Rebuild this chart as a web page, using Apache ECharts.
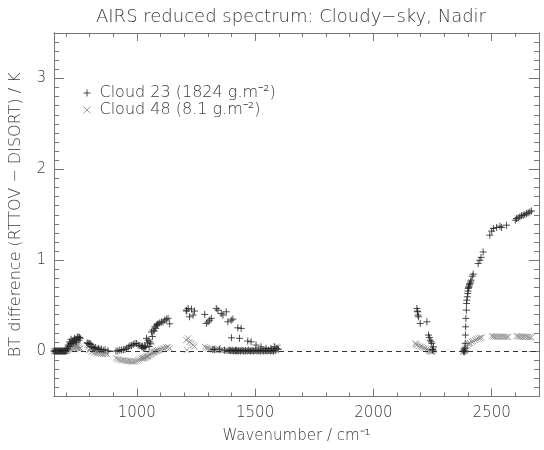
<!DOCTYPE html>
<html>
<head>
<meta charset="utf-8">
<script src="https://cdn.jsdelivr.net/npm/echarts@6/dist/echarts.min.js"></script>
<style>
  html, body { margin: 0; padding: 0; background: #fff; }
  #chart { width: 544px; height: 450px; }
</style>
</head>
<body>
<div id="chart"></div>
<script>
// Axis ranges and tick positions
const xRange = [650, 2700];
const yRange = [-0.5, 3.5];
const xMajorTicks = [1000, 1500, 2000, 2500];
const xMinorTicks = [700, 800, 900, 1100, 1200, 1300, 1400, 1600, 1700, 1800, 1900,
  2100, 2200, 2300, 2400, 2600, 2700];
const yMajorTicks = [0, 1, 2, 3];

// Series names
const name23 = 'Cloud 23 (1824 g.m⁻²)';
const name48 = 'Cloud 48 (8.1 g.m⁻²)';

// Cloud 23: [wavenumber (cm-1), BT difference (K)]
const cloud23 = [
  [650,0],[653,0],[656,0],[659,0],[662,0],[665,0],[668,0],[671,0],[674,0],[677,0],
  [680,0],[683,0],[686,0],[689,0],[692,0],[695,0],[698,0],[701,0],[704,0.01],[707,0.03],
  [710,0.066],[713,0.05],[716,0.10],[719,0.08],[722,0.13],[725,0.085],[728,0.11],[731,0.09],
  [734,0.12],[737,0.14],[740,0.10],[743,0.13],[746,0.10],[749,0.15],[752,0.157],[755,0.12],
  [758,0.15],[761,0.14],
  [790,0.09],[794,0.085],[798,0.08],[802,0.085],[806,0.073],[810,0.05],[815,0.04],[820,0.03],
  [826,0.04],[832,0.02],[838,0.03],[844,0.018],[850,0.02],[858,0.01],[866,0.015],[878,0.003],
  [912,0.0],[920,0.003],[928,0.011],[936,0.011],[943,0.015],[950,0.018],[957,0.03],[964,0.045],
  [971,0.058],[978,0.06],[985,0.073],[992,0.084],[999,0.084],[1006,0.066],[1013,0.06],[1020,0.048],
  [1024,0.055],[1027,0.03],[1031,0.04],[1034,0.055],[1038,0.045],[1041,0.14],[1045,0.09],[1048,0.12],
  [1052,0.05],[1055,0.10],[1059,0.08],[1062,0.21],[1066,0.16],[1069,0.23],[1073,0.22],[1076,0.267],
  [1080,0.25],[1083,0.286],[1087,0.29],[1090,0.30],[1097,0.31],[1104,0.32],[1111,0.32],[1118,0.34],
  [1125,0.35],[1132,0.36],[1139,0.30],
  [1209,0.45],[1211,0.44],[1217,0.469],[1223,0.377],[1231,0.462],[1238,0.396],[1244,0.44],
  [1287,0.403],[1294,0.304],[1301,0.32],[1308,0.34],[1315,0.36],[1336,0.469],[1343,0.45],
  [1357,0.414],[1364,0.396],[1378,0.432],[1385,0.322],[1399,0.34],[1400,0.146],[1406,0.352],
  [1427,0.256],[1434,0.14],[1441,0.249],[1469,0.11],[1483,0.102],[1504,0.066],[1525,0.047],
  [1546,0.03],[1567,0.03],[1581,0.047],
  [1322,0.02],[1329,0.015],[1350,0.02],[1371,0.01],[1390,0.01],[1395,0.005],[1403,0.01],[1410,0.0],
  [1417,0.005],[1420,0.01],[1424,0.0],[1431,0.005],[1438,0.0],[1445,0.01],[1452,0.0],[1459,0.005],
  [1466,0.0],[1473,0.01],[1480,0.0],[1487,0.005],[1494,0.0],[1501,0.01],[1508,0.0],[1515,0.005],
  [1522,0.0],[1529,0.01],[1536,0.0],[1543,0.005],[1550,0.0],[1557,0.01],[1564,0.0],[1571,0.005],
  [1578,0.0],[1585,0.01],[1592,0.03],[1598,0.02],
  [2184,0.469],[2186,0.44],[2187,0.432],[2188,0.396],[2191,0.377],[2198,0.304],[2226,0.322],
  [2233,0.176],[2237,0.15],[2240,0.12],[2244,0.102],[2247,0.085],[2250,0.018],[2252,0.01],[2254,0.047],
  [2380,-0.005],[2382,0.0],[2384,0.01],[2386,-0.008],[2387,0.03],[2388,0.085],[2389,0.176],[2390,0.267],
  [2391,0.359],[2393,0.45],[2394,0.524],[2395,0.56],[2397,0.597],[2399,0.634],[2400,0.66],[2401,0.689],
  [2403,0.70],[2404,0.714],[2406,0.73],[2408,0.744],[2411,0.76],[2413,0.78],[2418,0.824],[2422,0.846],
  [2443,0.963],[2450,1.0],[2455,1.03],[2464,1.09],[2492,1.275],[2500,1.32],[2507,1.348],[2521,1.36],
  [2535,1.374],[2542,1.36],[2563,1.385],[2600,1.44],[2605,1.458],[2612,1.465],[2619,1.476],[2626,1.49],
  [2633,1.495],[2640,1.50],[2647,1.513],[2654,1.52],[2661,1.531],[2668,1.542]
];

// Cloud 48: [wavenumber (cm-1), BT difference (K)]
const cloud48 = [
  [650,0],[653,0],[656,0],[659,0],[662,0],[665,0],[668,0],[671,0],[674,0],[677,0],
  [680,0],[683,0],[686,0],[689,0],[692,0],[695,0],[698,0],[701,0],[704,0],[707,0.01],
  [710,0.02],[713,0.03],[716,0.04],[719,0.02],[722,0.05],[725,0.03],[728,0.06],[731,0.04],
  [734,0.05],[737,0.03],[740,0.06],[743,0.04],[746,0.05],[749,0.03],[752,0.06],[755,0.04],
  [758,0.02],[761,0.03],
  [790,0.066],[794,0.05],[798,0.01],[802,0.03],[806,0.02],[810,-0.008],[815,0.0],[820,-0.018],
  [826,-0.01],[832,-0.025],[838,-0.02],[844,-0.025],[850,-0.03],[858,-0.033],[866,-0.03],[875,-0.035],
  [912,-0.08],[920,-0.09],[928,-0.095],[936,-0.10],[943,-0.10],[950,-0.105],[957,-0.11],[964,-0.11],
  [971,-0.11],[978,-0.115],[985,-0.115],[992,-0.115],[999,-0.11],[1006,-0.10],[1013,-0.09],[1020,-0.08],
  [1024,-0.085],[1027,-0.075],[1031,-0.08],[1034,-0.07],[1038,-0.07],[1041,-0.06],[1045,-0.06],[1048,-0.055],
  [1052,-0.05],[1055,-0.04],[1059,-0.035],[1062,-0.025],[1066,-0.02],[1069,-0.015],[1073,-0.01],[1076,-0.008],
  [1080,0.0],[1083,0.005],[1087,0.0],[1090,0.011],[1097,0.011],[1104,0.02],[1111,0.03],[1118,0.03],
  [1125,0.04],[1132,0.047],[1139,0.03],
  [1209,0.12],[1211,0.011],[1217,0.14],[1223,0.10],[1231,0.085],[1238,0.066],[1244,0.05],
  [1287,0.047],[1294,0.037],[1301,0.03],[1308,0.022],[1315,0.02],[1322,0.015],[1329,0.011],[1336,0.02],
  [1343,0.03],[1350,0.015],[1357,0.01],[1364,0.008],[1371,0.005],[1378,0.01],[1385,0.005],[1390,0.0],
  [1395,0.005],[1399,0.0],[1403,0.005],[1406,0.0],[1410,0.005],[1417,0.0],[1420,0.005],[1424,0.0],
  [1427,0.0],[1431,0.005],[1434,0.005],[1438,0.0],[1441,0.0],[1445,0.005],[1452,0.0],[1459,0.005],
  [1466,0.0],[1469,0.0],[1473,0.005],[1480,0.0],[1483,0.005],[1487,0.0],[1494,0.005],[1501,0.0],
  [1504,0.005],[1508,0.0],[1515,0.005],[1522,0.0],[1525,0.005],[1529,0.0],[1536,0.005],[1543,0.0],
  [1546,0.005],[1550,0.0],[1557,0.005],[1564,0.0],[1567,0.01],[1571,0.005],[1578,0.0],[1581,0.01],
  [1585,0.02],[1592,0.05],[1597,0.04],
  [2177,0.085],[2180,0.075],[2184,0.066],[2191,0.055],[2198,0.05],[2205,0.047],[2212,0.035],[2219,0.03],
  [2226,0.02],[2233,0.011],[2237,0.0],[2240,0.003],[2244,-0.005],[2247,-0.008],[2250,0.0],[2254,0.011],
  [2380,-0.008],[2382,0.0],[2384,0.005],[2386,0.02],[2388,0.011],[2390,0.03],[2393,0.047],[2396,0.06],
  [2401,0.077],[2404,0.085],[2408,0.09],[2416,0.102],[2422,0.11],[2430,0.12],[2437,0.13],[2444,0.14],
  [2451,0.145],[2458,0.15],[2500,0.165],[2507,0.16],[2514,0.157],[2521,0.16],[2528,0.157],[2535,0.16],
  [2542,0.157],[2549,0.16],[2556,0.157],[2563,0.155],[2570,0.157],[2605,0.165],[2612,0.16],[2619,0.157],
  [2626,0.16],[2633,0.157],[2640,0.16],[2647,0.157],[2654,0.155],[2661,0.15],[2668,0.152]
];

const FONT = 'DejaVu Sans';
const WEIGHT = 200;
const TEXT = '#3a3a3a';
const FRAME = '#777';

const yMinorTicks = [];
for (let k = -5; k <= 35; k++) {
  if (k % 10 !== 0) yMinorTicks.push(k / 10);
}

const plainNumber = v => String(v);

function xAxisDef(pos, ticks, len, labels, extra) {
  return Object.assign({
    type: 'value', position: pos, min: xRange[0], max: xRange[1],
    axisLine: { show: true, onZero: false, lineStyle: { color: FRAME, width: 1 } },
    axisTick: { show: true, inside: true, length: len, customValues: ticks,
      lineStyle: { color: FRAME, width: 1 } },
    axisLabel: labels ? { show: true, customValues: labels, formatter: plainNumber,
      color: TEXT, fontFamily: FONT, fontWeight: WEIGHT, fontSize: 15, margin: 9 } : { show: false },
    splitLine: { show: false }
  }, extra || {});
}
function yAxisDef(pos, ticks, len, labels, extra) {
  return Object.assign({
    type: 'value', position: pos, min: yRange[0], max: yRange[1],
    axisLine: { show: true, onZero: false, lineStyle: { color: FRAME, width: 1 } },
    axisTick: { show: true, inside: true, length: len, customValues: ticks,
      lineStyle: { color: FRAME, width: 1 } },
    axisLabel: labels ? { show: true, customValues: labels, formatter: plainNumber,
      color: TEXT, fontFamily: FONT, fontWeight: WEIGHT, fontSize: 15, margin: 8 } : { show: false },
    splitLine: { show: false }
  }, extra || {});
}

const plusPath = 'path://M0,5H10M5,0V10';
const crossPath = 'path://M0,0L10,10M10,0L0,10';

const chart = echarts.init(document.getElementById('chart'), null, { renderer: 'canvas' });
chart.setOption({
  animation: false,
  backgroundColor: '#fff',
  title: {
    text: 'AIRS reduced spectrum: Cloudy−sky, Nadir',
    left: 286, top: 3, textAlign: 'center',
    textStyle: { fontFamily: FONT, fontSize: 18, fontWeight: WEIGHT, color: TEXT }
  },
  grid: { left: 52, right: 5, top: 33, bottom: 53.5, containLabel: false },
  legend: {
    orient: 'vertical', left: 78, top: 80, itemGap: 1,
    itemWidth: 7, itemHeight: 7, selectedMode: false,
    textStyle: { fontFamily: FONT, fontWeight: WEIGHT, fontSize: 16, color: TEXT,
      padding: [0, 0, 0, 4] },
    data: [
      { name: name23, icon: plusPath,
        itemStyle: { color: 'transparent', borderColor: '#222', borderWidth: 1 } },
      { name: name48, icon: crossPath,
        itemStyle: { color: 'transparent', borderColor: '#888', borderWidth: 1 } }
    ]
  },
  xAxis: [
    xAxisDef('bottom', xMajorTicks, 8, xMajorTicks, {
      name: 'Wavenumber / cm⁻¹', nameLocation: 'middle', nameGap: 32,
      nameTextStyle: { fontFamily: FONT, fontWeight: WEIGHT, fontSize: 15, color: TEXT }
    }),
    xAxisDef('bottom', xMinorTicks, 4, null),
    xAxisDef('top', xMajorTicks, 8, null),
    xAxisDef('top', xMinorTicks, 4, null)
  ],
  yAxis: [
    yAxisDef('left', yMajorTicks, 10, yMajorTicks, {
      name: 'BT difference (RTTOV − DISORT) / K', nameLocation: 'middle', nameGap: 30,
      nameTextStyle: { fontFamily: FONT, fontWeight: WEIGHT, fontSize: 16, color: TEXT }
    }),
    yAxisDef('left', yMinorTicks, 5, null),
    yAxisDef('right', yMajorTicks, 10, null),
    yAxisDef('right', yMinorTicks, 5, null)
  ],
  series: [
    {
      name: name48, type: 'scatter', xAxisIndex: 0, yAxisIndex: 0,
      symbol: crossPath, symbolSize: 6,
      itemStyle: { color: 'transparent', borderColor: '#888', borderWidth: 1 },
      data: cloud48, z: 2,
      markLine: {
        silent: true, symbol: 'none', label: { show: false },
        lineStyle: { color: '#333', type: [5, 4], width: 1 },
        data: [{ yAxis: 0 }]
      }
    },
    {
      name: name23, type: 'scatter', xAxisIndex: 0, yAxisIndex: 0,
      symbol: plusPath, symbolSize: 7,
      itemStyle: { color: 'transparent', borderColor: '#222', borderWidth: 1 },
      data: cloud23, z: 3
    }
  ]
});
</script>
</body>
</html>
